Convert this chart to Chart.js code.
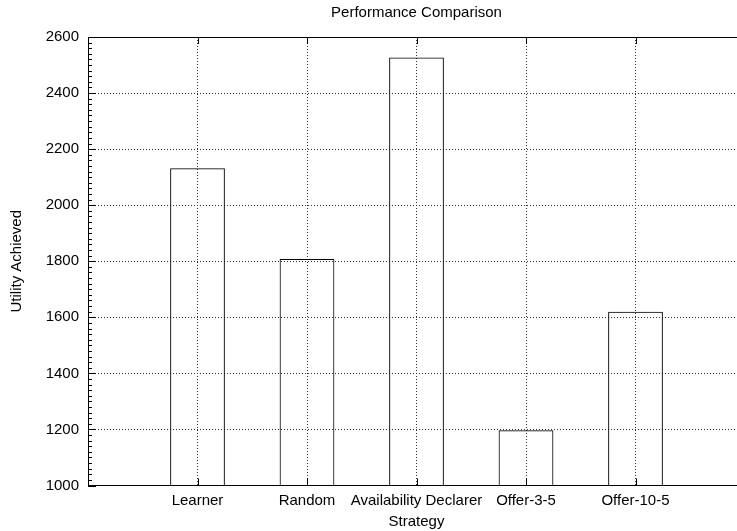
<!DOCTYPE html>
<html>
<head>
<meta charset="utf-8">
<script src="https://cdn.jsdelivr.net/npm/chart.js@4/dist/chart.umd.min.js"></script>
<style>
  body { margin: 0; background: #fff; }
  #wrap { width: 737px; height: 531px; overflow: hidden; }
</style>
</head>
<body>
<div id="wrap"><canvas id="chart" width="760" height="531"></canvas></div>
<script>
// dados do grafico
var estrategias = ['Learner', 'Random', 'Availability Declarer', 'Offer-3-5', 'Offer-10-5'];
var posicoes = [1, 2, 3, 4, 5];
var utilidade = [2132, 1808, 2527, 1197, 1620];
var yTicks = [1000, 1200, 1400, 1600, 1800, 2000, 2200, 2400, 2600];

var fonte = { family: "'Liberation Sans', Arial, sans-serif", size: 15 };

var pontos = [];
for (var i = 0; i < estrategias.length; i++) {
  pontos.push({ x: posicoes[i], y: utilidade[i] });
}

// tracinhos para dentro, estilo gnuplot
var marcasPlugin = {
  id: 'marcas',
  afterDraw: function (chart) {
    var ctx = chart.ctx;
    var a = chart.chartArea;
    var ys = chart.scales.y;
    var xs = chart.scales.x;
    ctx.save();
    ctx.strokeStyle = '#000';
    ctx.lineWidth = 1;
    ctx.beginPath();
    for (var v = ys.min; v <= ys.max; v += 20) {
      var py = Math.round(ys.getPixelForValue(v)) + 0.5;
      var len = (v % 200 === 0) ? 8 : 4;
      ctx.moveTo(a.left, py);
      ctx.lineTo(a.left + len, py);
    }
    for (var k = 0; k < posicoes.length; k++) {
      var px = Math.round(xs.getPixelForValue(posicoes[k])) + 0.5;
      ctx.moveTo(px, a.bottom);
      ctx.lineTo(px, a.bottom - 7);
      ctx.moveTo(px, a.top);
      ctx.lineTo(px, a.top + 7);
    }
    ctx.stroke();
    ctx.restore();
  }
};

var ctx = document.getElementById('chart').getContext('2d');
var chart = new Chart(ctx, {
  type: 'bar',
  data: {
    datasets: [{
      data: pontos,
      base: 1000,
      backgroundColor: 'rgba(0,0,0,0)',
      borderColor: '#000',
      borderWidth: 1,
      borderSkipped: 'bottom',
      barPercentage: 0.5,
      categoryPercentage: 1
    }]
  },
  options: {
    responsive: false,
    animation: false,
    layout: { padding: { left: 0, right: 15, top: 0, bottom: 0 } },
    plugins: {
      legend: { display: false },
      tooltip: { enabled: false },
      title: { display: false }
    },
    scales: {
      x: {
        type: 'linear',
        position: 'bottom',
        offset: false,
        min: 0,
        max: 6,
        afterFit: function (s) { s.height = 45.5; },
        ticks: {
          stepSize: 1,
          autoSkip: false,
          maxRotation: 0,
          padding: 6,
          color: '#000',
          font: fonte,
          callback: function (v) { return estrategias[posicoes.indexOf(v)] || ''; }
        },
        grid: {
          drawTicks: false,
          offset: false,
          lineWidth: 1,
          color: function (c) {
            var v = c.tick ? c.tick.value : null;
            return posicoes.indexOf(v) >= 0 ? '#333' : 'rgba(0,0,0,0)';
          }
        },
        border: { display: true, color: '#000', width: 1, dash: [1, 2] },
        title: { display: true, text: 'Strategy', color: '#000', font: fonte, padding: 0 }
      },
      x2: {
        type: 'linear',
        position: 'top',
        offset: false,
        min: 0,
        max: 6,
        afterFit: function (s) { s.height = 37; },
        ticks: { display: false },
        grid: { drawTicks: false, offset: false, color: 'rgba(0,0,0,0)' },
        border: { display: true, color: '#000', width: 1 },
        title: { display: true, text: 'Performance Comparison', color: '#000', font: fonte, padding: { top: 4, bottom: 0 } }
      },
      y: {
        min: 1000,
        max: 2600,
        afterFit: function (s) { s.width = 88; },
        afterBuildTicks: function (s) {
          s.ticks = yTicks.map(function (v) { return { value: v }; });
        },
        ticks: {
          color: '#000',
          font: fonte,
          padding: 9,
          callback: function (v) { return String(v); }
        },
        grid: { drawTicks: false, color: '#333', lineWidth: 1 },
        border: { display: true, color: '#000', width: 1, dash: [1, 2] },
        title: { display: true, text: 'Utility Achieved', color: '#000', font: fonte, padding: { top: 8, bottom: 0 } }
      }
    }
  },
  plugins: [marcasPlugin]
});
</script>
</body>
</html>
